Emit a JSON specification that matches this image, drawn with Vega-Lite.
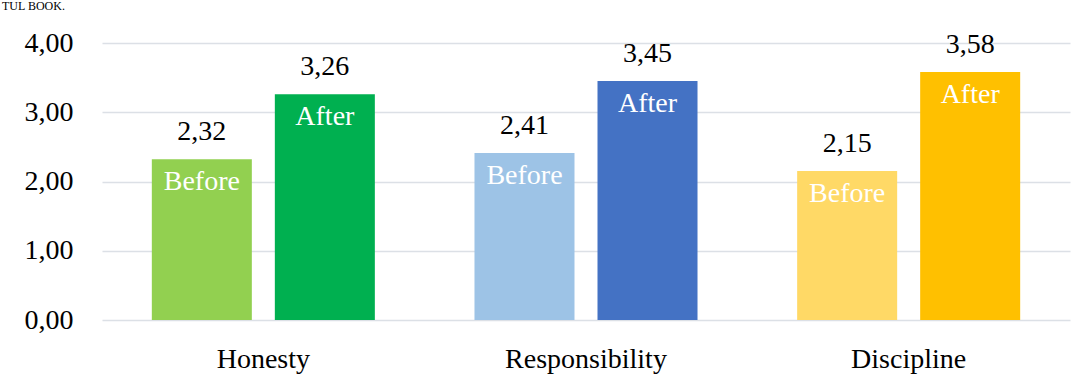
{
  "$schema": "https://vega.github.io/schema/vega-lite/v6.json",
  "width": 968,
  "height": 277,
  "autosize": "none",
  "padding": {"left": 102, "top": 43, "right": 15, "bottom": 65},
  "background": "white",
  "config": {
    "locale": {"number": {"decimal": ",", "thousands": ".", "grouping": [3], "currency": ["", " €"]}},
    "view": {"stroke": null},
    "font": "Liberation Serif"
  },
  "title": {
    "text": "TUL BOOK.",
    "fontSize": 12,
    "fontWeight": "normal",
    "font": "Liberation Serif",
    "color": "black",
    "anchor": "start",
    "frame": "group",
    "offset": 0,
    "dy": -16,
    "dx": -100
  },
  "data": {
    "values": [
      {"skill": "Honesty", "phase": "Before", "score": 2.32},
      {"skill": "Honesty", "phase": "After", "score": 3.26},
      {"skill": "Responsibility", "phase": "Before", "score": 2.41},
      {"skill": "Responsibility", "phase": "After", "score": 3.45},
      {"skill": "Discipline", "phase": "Before", "score": 2.15},
      {"skill": "Discipline", "phase": "After", "score": 3.58}
    ]
  },
  "transform": [{"calculate": "datum.skill + ' ' + datum.phase", "as": "key"}],
  "encoding": {
    "x": {
      "field": "skill",
      "type": "nominal",
      "sort": ["Honesty", "Responsibility", "Discipline"],
      "scale": {"paddingInner": 0, "paddingOuter": 0},
      "axis": {
        "title": null,
        "labelAngle": 0,
        "domain": false,
        "ticks": false,
        "labelFontSize": 28,
        "labelColor": "black",
        "labelPadding": 25,
        "labelFont": "Liberation Serif"
      }
    },
    "xOffset": {
      "field": "phase",
      "type": "nominal",
      "sort": ["Before", "After"],
      "scale": {"paddingInner": 0.187, "paddingOuter": 0.405}
    },
    "y": {
      "field": "score",
      "type": "quantitative",
      "scale": {"domain": [0, 4]},
      "axis": {
        "title": null,
        "values": [0, 1, 2, 3, 4],
        "format": ".2f",
        "domain": false,
        "ticks": false,
        "grid": true,
        "gridColor": "#DCE0E6",
        "gridWidth": 1.5,
        "labelFontSize": 28,
        "labelColor": "black",
        "labelPadding": 29,
        "labelFont": "Liberation Serif"
      }
    }
  },
  "layer": [
    {
      "mark": {"type": "bar"},
      "encoding": {
        "color": {
          "field": "key",
          "type": "nominal",
          "scale": {
            "domain": ["Honesty Before", "Honesty After", "Responsibility Before", "Responsibility After", "Discipline Before", "Discipline After"],
            "range": ["#92D050", "#00B050", "#9DC3E6", "#4472C4", "#FFD966", "#FFC000"]
          },
          "legend": null
        }
      }
    },
    {
      "mark": {"type": "text", "baseline": "alphabetic", "dy": -19, "fontSize": 28, "color": "black", "font": "Liberation Serif"},
      "encoding": {"text": {"field": "score", "type": "quantitative", "format": ".2f"}}
    },
    {
      "mark": {"type": "text", "baseline": "alphabetic", "dy": 31, "fontSize": 28, "color": "white", "font": "Liberation Serif"},
      "encoding": {"text": {"field": "phase", "type": "nominal"}}
    }
  ]
}
